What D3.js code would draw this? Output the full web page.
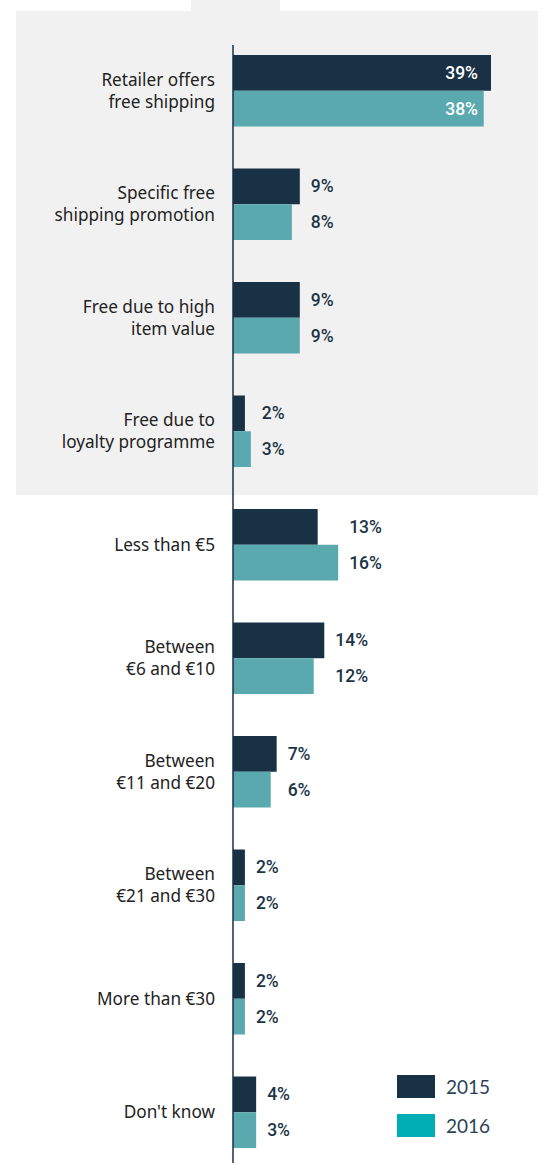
<!DOCTYPE html>
<html>
<head>
<meta charset="utf-8">
<script src="https://cdn.jsdelivr.net/npm/d3@7"></script>
<style>
  body { margin: 0; background: #fff; }
  svg { display: block; }
</style>
</head>
<body>
<div id="chart"></div>
<script>
// Categories (label lines)
const categories = [
    ['Retailer offers', 'free shipping'],
    ['Specific free', 'shipping promotion'],
    ['Free due to high', 'item value'],
    ['Free due to', 'loyalty programme'],
    ['Less than €5'],
    ['Between', '€6 and €10'],
    ['Between', '€11 and €20'],
    ['Between', '€21 and €30'],
    ['More than €30'],
    ["Don't know"]
];

const seriesNames = ['2015', '2016'];

// Bar lengths as drawn in the picture (%)
const values2015 = [39.0, 10.1, 10.1, 1.8, 12.8, 13.8, 6.6, 1.8, 1.8, 3.5];
const values2016 = [37.9, 8.9, 10.1, 2.7, 15.9, 12.2, 5.7, 1.8, 1.8, 3.5];

// Printed labels
const labels2015 = ['39%', '9%', '9%', '2%', '13%', '14%', '7%', '2%', '2%', '4%'];
const labels2016 = ['38%', '8%', '9%', '3%', '16%', '12%', '6%', '2%', '2%', '3%'];

showBarChart();

function showBarChart() {
    const width = 543;
    const height = 1163;
    const colors = { '2015': '#183145', '2016': '#5aa9ae' };
    const legendColors = { '2015': '#183145', '2016': '#00adb5' };

    const svg = d3.select('#chart').append('svg')
        .attr('width', width)
        .attr('height', height);

    // Grey panel behind the "free shipping" group, with tab on top
    svg.append('rect')
        .attr('x', 16).attr('y', 11)
        .attr('width', 522).attr('height', 484)
        .attr('fill', '#f1f1f1');
    svg.append('rect')
        .attr('x', 191).attr('y', 0)
        .attr('width', 89).attr('height', 11)
        .attr('fill', '#f1f1f1');

    const idx = d3.range(categories.length);

    const xScale = d3.scaleLinear()
        .domain([0, 39])
        .range([233, 491]);

    const yScale = d3.scaleBand()
        .domain(idx)
        .range([55, 1148])
        .paddingInner(0.37)
        .paddingOuter(0);

    const ySub = d3.scaleBand()
        .domain(seriesNames)
        .range([0, yScale.bandwidth()]);

    const rows = idx.map(i => ({
        i: i,
        lines: categories[i],
        bars: [
            { key: '2015', value: values2015[i], label: labels2015[i] },
            { key: '2016', value: values2016[i], label: labels2016[i] }
        ]
    }));

    const groups = svg.selectAll('g.row')
        .data(rows)
        .enter()
        .append('g')
        .attr('class', 'row')
        .attr('transform', d => `translate(0,${yScale(d.i)})`);

    // Bars
    groups.selectAll('rect')
        .data(d => d.bars)
        .enter()
        .append('rect')
        .attr('x', xScale(0))
        .attr('y', d => ySub(d.key))
        .attr('width', d => xScale(d.value) - xScale(0))
        .attr('height', ySub.bandwidth())
        .attr('fill', d => colors[d.key]);

    // Value labels: inside for long bars, outside otherwise
    groups.each(function(row) {
        const g = d3.select(this);
        const maxV = d3.max(row.bars, b => b.value);
        const inside = maxV > 30;
        g.selectAll('text.val')
            .data(row.bars)
            .enter()
            .append('text')
            .attr('class', 'val')
            .attr('x', inside ? xScale(maxV) - 13 : xScale(maxV) + 11)
            .attr('y', d => ySub(d.key) + ySub.bandwidth() / 2)
            .attr('dy', '0.35em')
            .attr('text-anchor', inside ? 'end' : 'start')
            .attr('font-family', 'Roboto, sans-serif')
            .attr('font-weight', 500)
            .attr('font-size', 17.5)
            .attr('fill', inside ? '#ffffff' : '#1c3446')
            .text(d => d.label);
    });

    // Category labels
    groups.append('text')
        .attr('text-anchor', 'end')
        .attr('font-family', '"Noto Sans", sans-serif')
        .attr('font-size', 17.2)
        .attr('fill', '#222222')
        .each(function(d) {
            const t = d3.select(this);
            const n = d.lines.length;
            const lh = 22;
            d.lines.forEach((line, k) => {
                t.append('tspan')
                    .attr('x', 215)
                    .attr('y', yScale.bandwidth() / 2 + (k - (n - 1) / 2) * lh)
                    .attr('dy', '0.35em')
                    .text(line);
            });
        });

    // Axis line
    svg.append('line')
        .attr('x1', xScale(0)).attr('x2', xScale(0))
        .attr('y1', 45).attr('y2', height)
        .attr('stroke', '#183145')
        .attr('stroke-width', 1.5);

    // Legend
    const legend = svg.append('g')
        .attr('transform', 'translate(397,1075)');
    const legendItems = legend.selectAll('g')
        .data(seriesNames)
        .enter()
        .append('g')
        .attr('transform', (d, i) => `translate(0,${i * 39})`);
    legendItems.append('rect')
        .attr('width', 38)
        .attr('height', 23)
        .attr('fill', d => legendColors[d]);
    legendItems.append('text')
        .attr('x', 49)
        .attr('y', 12)
        .attr('dy', '0.35em')
        .attr('font-family', 'Lato, sans-serif')
        .attr('font-size', 19)
        .attr('fill', '#2c4256')
        .text(d => d);
}
</script>
</body>
</html>
